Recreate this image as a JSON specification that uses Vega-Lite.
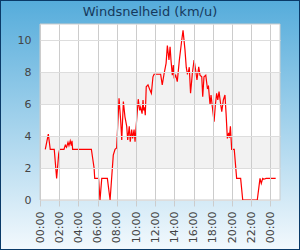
{
  "$schema": "https://vega.github.io/schema/vega-lite/v6.json",
  "width": 300,
  "height": 250,
  "autosize": "none",
  "padding": 0,
  "title": {"text": "Windsnelheid (km/u)", "font": "DejaVu Sans", "fontSize": 13, "fontWeight": "normal", "color": "#16395c", "anchor": "middle", "baseline": "top", "offset": -19},
  "config": {
    "view": {
      "fill": {"gradient": "linear", "x1": 0, "y1": 0, "x2": 0, "y2": 1, "stops": [{"offset": 0, "color": "#55acdb"}, {"offset": 1, "color": "#f3f9fd"}]},
      "stroke": "#0a3a68",
      "strokeWidth": 2
    },
    "axis": {"labelOverlap": false, "labelSeparation": 0}
  },
  "resolve": {"axis": {"x": "independent"}},
  "data": {"values": [
    {"t": "2024-01-01T00:33", "v": 3.17},
    {"t": "2024-01-01T00:52", "v": 4.12},
    {"t": "2024-01-01T01:04", "v": 3.17},
    {"t": "2024-01-01T01:29", "v": 3.17},
    {"t": "2024-01-01T01:44", "v": 1.35},
    {"t": "2024-01-01T01:57", "v": 2.9},
    {"t": "2024-01-01T02:03", "v": 3.17},
    {"t": "2024-01-01T02:30", "v": 3.17},
    {"t": "2024-01-01T02:38", "v": 3.43},
    {"t": "2024-01-01T02:46", "v": 3.3},
    {"t": "2024-01-01T02:55", "v": 3.6},
    {"t": "2024-01-01T03:01", "v": 3.4},
    {"t": "2024-01-01T03:09", "v": 3.69},
    {"t": "2024-01-01T03:16", "v": 3.4},
    {"t": "2024-01-01T03:20", "v": 3.7},
    {"t": "2024-01-01T03:24", "v": 3.17},
    {"t": "2024-01-01T05:21", "v": 3.17},
    {"t": "2024-01-01T05:38", "v": 2.0},
    {"t": "2024-01-01T05:42", "v": 1.35},
    {"t": "2024-01-01T06:06", "v": 1.35},
    {"t": "2024-01-01T06:15", "v": 0},
    {"t": "2024-01-01T06:26", "v": 1.35},
    {"t": "2024-01-01T07:01", "v": 1.35},
    {"t": "2024-01-01T07:18", "v": 0},
    {"t": "2024-01-01T07:38", "v": 2.8},
    {"t": "2024-01-01T07:49", "v": 3.17},
    {"t": "2024-01-01T07:59", "v": 3.25},
    {"t": "2024-01-01T08:14", "v": 6.35},
    {"t": "2024-01-01T08:24", "v": 5.0},
    {"t": "2024-01-01T08:31", "v": 3.75},
    {"t": "2024-01-01T08:41", "v": 6.15},
    {"t": "2024-01-01T08:51", "v": 5.2},
    {"t": "2024-01-01T09:02", "v": 4.6},
    {"t": "2024-01-01T09:08", "v": 3.75},
    {"t": "2024-01-01T09:18", "v": 4.6},
    {"t": "2024-01-01T09:24", "v": 3.65},
    {"t": "2024-01-01T09:33", "v": 4.4},
    {"t": "2024-01-01T09:39", "v": 3.85},
    {"t": "2024-01-01T09:48", "v": 4.4},
    {"t": "2024-01-01T09:54", "v": 3.65},
    {"t": "2024-01-01T10:04", "v": 5.0},
    {"t": "2024-01-01T10:14", "v": 6.3},
    {"t": "2024-01-01T10:23", "v": 5.6},
    {"t": "2024-01-01T10:29", "v": 5.8},
    {"t": "2024-01-01T10:38", "v": 5.4},
    {"t": "2024-01-01T10:44", "v": 6.25},
    {"t": "2024-01-01T10:48", "v": 5.6},
    {"t": "2024-01-01T10:53", "v": 5.8},
    {"t": "2024-01-01T10:58", "v": 5.3},
    {"t": "2024-01-01T11:04", "v": 7.08},
    {"t": "2024-01-01T11:15", "v": 7.2},
    {"t": "2024-01-01T11:26", "v": 6.9},
    {"t": "2024-01-01T11:36", "v": 6.67},
    {"t": "2024-01-01T11:46", "v": 7.7},
    {"t": "2024-01-01T11:53", "v": 7.86},
    {"t": "2024-01-01T12:34", "v": 7.86},
    {"t": "2024-01-01T12:44", "v": 7.2},
    {"t": "2024-01-01T12:55", "v": 7.86},
    {"t": "2024-01-01T13:08", "v": 8.54},
    {"t": "2024-01-01T13:16", "v": 9.65},
    {"t": "2024-01-01T13:26", "v": 8.75},
    {"t": "2024-01-01T13:33", "v": 9.58},
    {"t": "2024-01-01T13:39", "v": 8.7},
    {"t": "2024-01-01T13:47", "v": 7.8},
    {"t": "2024-01-01T13:53", "v": 8.44},
    {"t": "2024-01-01T13:59", "v": 7.6},
    {"t": "2024-01-01T14:08", "v": 7.8},
    {"t": "2024-01-01T14:18", "v": 7.4},
    {"t": "2024-01-01T14:31", "v": 8.75},
    {"t": "2024-01-01T14:46", "v": 10.0},
    {"t": "2024-01-01T14:54", "v": 10.6},
    {"t": "2024-01-01T15:06", "v": 9.4},
    {"t": "2024-01-01T15:14", "v": 8.3},
    {"t": "2024-01-01T15:21", "v": 7.9},
    {"t": "2024-01-01T15:27", "v": 8.0},
    {"t": "2024-01-01T15:33", "v": 8.3},
    {"t": "2024-01-01T15:41", "v": 6.67},
    {"t": "2024-01-01T15:52", "v": 7.9},
    {"t": "2024-01-01T16:03", "v": 8.75},
    {"t": "2024-01-01T16:13", "v": 8.1},
    {"t": "2024-01-01T16:21", "v": 7.5},
    {"t": "2024-01-01T16:32", "v": 8.33},
    {"t": "2024-01-01T16:40", "v": 7.8},
    {"t": "2024-01-01T16:51", "v": 7.7},
    {"t": "2024-01-01T16:57", "v": 6.46},
    {"t": "2024-01-01T17:05", "v": 7.7},
    {"t": "2024-01-01T17:16", "v": 7.8},
    {"t": "2024-01-01T17:26", "v": 7.0},
    {"t": "2024-01-01T17:33", "v": 7.1},
    {"t": "2024-01-01T17:43", "v": 5.94},
    {"t": "2024-01-01T17:49", "v": 6.56},
    {"t": "2024-01-01T17:57", "v": 5.83},
    {"t": "2024-01-01T18:08", "v": 4.9},
    {"t": "2024-01-01T18:16", "v": 5.94},
    {"t": "2024-01-01T18:24", "v": 6.67},
    {"t": "2024-01-01T18:31", "v": 6.25},
    {"t": "2024-01-01T18:39", "v": 6.77},
    {"t": "2024-01-01T18:49", "v": 6.0},
    {"t": "2024-01-01T18:56", "v": 5.52},
    {"t": "2024-01-01T19:06", "v": 6.25},
    {"t": "2024-01-01T19:16", "v": 6.56},
    {"t": "2024-01-01T19:23", "v": 5.4},
    {"t": "2024-01-01T19:31", "v": 3.85},
    {"t": "2024-01-01T19:39", "v": 4.2},
    {"t": "2024-01-01T19:44", "v": 3.9},
    {"t": "2024-01-01T19:50", "v": 4.6},
    {"t": "2024-01-01T19:58", "v": 3.17},
    {"t": "2024-01-01T20:14", "v": 3.17},
    {"t": "2024-01-01T20:29", "v": 1.35},
    {"t": "2024-01-01T20:54", "v": 1.35},
    {"t": "2024-01-01T21:07", "v": 0},
    {"t": "2024-01-01T22:38", "v": 0},
    {"t": "2024-01-01T22:55", "v": 1.35},
    {"t": "2024-01-01T23:03", "v": 1.04},
    {"t": "2024-01-01T23:12", "v": 1.35},
    {"t": "2024-01-01T23:20", "v": 1.3},
    {"t": "2024-01-01T23:33", "v": 1.35},
    {"t": "2024-01-02T00:33", "v": 1.35}
  ]},
  "layer": [
    {
      "data": {"values": [{}]},
      "mark": {"type": "rect", "fill": "#ffffff", "stroke": null},
      "encoding": {
        "x": {
          "datum": {"year": 2024, "month": 1, "date": 1, "hours": 0}, "type": "temporal",
          "axis": {
            "orient": "top", "title": null, "zindex": 1,
            "values": [
              {"year": 2024, "month": 1, "date": 1, "hours": 0},
              {"year": 2024, "month": 1, "date": 1, "hours": 2},
              {"year": 2024, "month": 1, "date": 1, "hours": 4},
              {"year": 2024, "month": 1, "date": 1, "hours": 6},
              {"year": 2024, "month": 1, "date": 1, "hours": 8},
              {"year": 2024, "month": 1, "date": 1, "hours": 10},
              {"year": 2024, "month": 1, "date": 1, "hours": 12},
              {"year": 2024, "month": 1, "date": 1, "hours": 14},
              {"year": 2024, "month": 1, "date": 1, "hours": 16},
              {"year": 2024, "month": 1, "date": 1, "hours": 18},
              {"year": 2024, "month": 1, "date": 1, "hours": 20},
              {"year": 2024, "month": 1, "date": 1, "hours": 22},
              {"year": 2024, "month": 1, "date": 2, "hours": 0}
            ],
            "labels": false, "ticks": false, "domain": false,
            "grid": true, "gridColor": "#cccccc", "gridWidth": 1
          }
        },
        "x2": {"datum": {"year": 2024, "month": 1, "date": 2, "hours": 1}},
        "y": {"datum": 0, "type": "quantitative"},
        "y2": {"datum": 11}
      }
    },
    {
      "data": {"values": [{}]},
      "mark": {"type": "rect", "fill": "#f2f2f2", "stroke": null},
      "encoding": {
        "x": {"datum": {"year": 2024, "month": 1, "date": 1, "hours": 0}, "type": "temporal", "axis": null},
        "x2": {"datum": {"year": 2024, "month": 1, "date": 2, "hours": 1}},
        "y": {"datum": 2, "type": "quantitative"},
        "y2": {"datum": 4}
      }
    },
    {
      "data": {"values": [{}]},
      "mark": {"type": "rect", "fill": "#f2f2f2", "stroke": null},
      "encoding": {
        "x": {"datum": {"year": 2024, "month": 1, "date": 1, "hours": 0}, "type": "temporal", "axis": null},
        "x2": {"datum": {"year": 2024, "month": 1, "date": 2, "hours": 1}},
        "y": {"datum": 6, "type": "quantitative"},
        "y2": {"datum": 8}
      }
    },
    {
      "data": {"values": [{}]},
      "mark": {"type": "rect", "fill": null, "stroke": "#cccccc", "strokeWidth": 1},
      "encoding": {
        "x": {"datum": {"year": 2024, "month": 1, "date": 1, "hours": 0}, "type": "temporal", "axis": null},
        "x2": {"datum": {"year": 2024, "month": 1, "date": 2, "hours": 1}},
        "y": {"datum": 0, "type": "quantitative"},
        "y2": {"datum": 11}
      }
    },
    {
      "mark": {"type": "line", "color": "#ff0000", "strokeWidth": 1.2},
      "encoding": {
        "x": {
          "field": "t", "type": "temporal",
          "scale": {"domain": [{"year": 2024, "month": 1, "date": 1, "hours": 0}, {"year": 2024, "month": 1, "date": 2, "hours": 1}], "range": [40, 280]},
          "axis": {
            "orient": "bottom", "title": null, "offset": -50, "zindex": 1,
            "values": [
              {"year": 2024, "month": 1, "date": 1, "hours": 0},
              {"year": 2024, "month": 1, "date": 1, "hours": 2},
              {"year": 2024, "month": 1, "date": 1, "hours": 4},
              {"year": 2024, "month": 1, "date": 1, "hours": 6},
              {"year": 2024, "month": 1, "date": 1, "hours": 8},
              {"year": 2024, "month": 1, "date": 1, "hours": 10},
              {"year": 2024, "month": 1, "date": 1, "hours": 12},
              {"year": 2024, "month": 1, "date": 1, "hours": 14},
              {"year": 2024, "month": 1, "date": 1, "hours": 16},
              {"year": 2024, "month": 1, "date": 1, "hours": 18},
              {"year": 2024, "month": 1, "date": 1, "hours": 20},
              {"year": 2024, "month": 1, "date": 1, "hours": 22},
              {"year": 2024, "month": 1, "date": 2, "hours": 0}
            ],
            "format": "%H:%M", "labelAngle": 270, "labelAlign": "right", "labelBaseline": "middle",
            "labelFlush": false, "labelOverlap": false, "labelPadding": 5,
            "labelFont": "DejaVu Sans", "labelFontSize": 11, "labelColor": "#444444",
            "grid": false,
            "domain": false, "ticks": true, "tickSize": 6, "tickColor": "#cccccc"
          }
        },
        "y": {
          "field": "v", "type": "quantitative",
          "scale": {"domain": [0, 11], "range": [200, 24], "nice": false, "zero": true},
          "axis": {
            "title": null, "offset": -40, "zindex": 1,
            "values": [0, 2, 4, 6, 8, 10],
            "labelFont": "DejaVu Sans", "labelFontSize": 11, "labelColor": "#444444", "labelPadding": 9,
            "labelFlush": false, "labelOverlap": false,
            "grid": true, "gridColor": "#dddddd", "gridWidth": 1,
            "domain": false, "ticks": false
          }
        }
      }
    }
  ]
}
